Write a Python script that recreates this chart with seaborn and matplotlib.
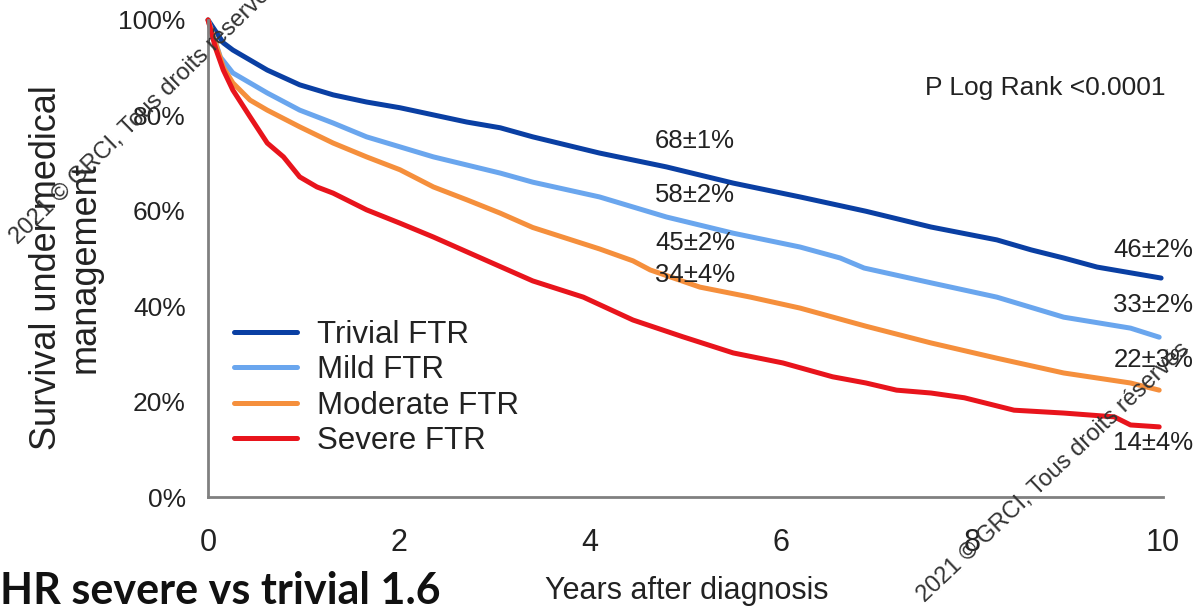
import matplotlib
matplotlib.use("Agg")
import matplotlib.pyplot as plt
import seaborn as sns
import pandas as pd

# ---- data ----
groups = ["Trivial FTR", "Mild FTR", "Moderate FTR", "Severe FTR"]
colors = ["#0a3fa3", "#6aa6ee", "#f58f3c", "#e8141c"]

trivial_x = [0, 0.16, 0.26, 0.62, 0.96, 1.31, 1.66, 2.01, 2.36, 2.71, 3.06, 3.40, 4.10, 4.80, 5.50, 6.20, 6.89, 7.57, 8.26, 8.62, 8.96, 9.31, 9.98]
trivial_y = [100, 95.2, 93.7, 89.5, 86.4, 84.3, 82.8, 81.6, 80.1, 78.6, 77.4, 75.5, 72.1, 69.2, 65.8, 62.9, 59.9, 56.6, 53.9, 51.8, 50.1, 48.2, 45.9]

mild_x = [0, 0.13, 0.26, 0.62, 0.96, 1.31, 1.66, 2.01, 2.36, 2.71, 3.06, 3.40, 4.10, 4.80, 5.50, 6.20, 6.62, 6.87, 7.57, 8.26, 8.96, 9.66, 9.96]
mild_y = [100, 92.2, 88.9, 84.7, 81.1, 78.4, 75.5, 73.4, 71.3, 69.6, 67.9, 66.0, 62.9, 58.7, 55.3, 52.4, 50.1, 48.0, 44.9, 41.9, 37.7, 35.4, 33.5]

moderate_x = [0, 0.16, 0.26, 0.44, 0.62, 0.96, 1.31, 1.66, 2.01, 2.36, 2.71, 3.06, 3.40, 4.10, 4.45, 4.63, 5.15, 5.68, 6.20, 6.89, 7.57, 8.26, 8.96, 9.66, 9.96]
moderate_y = [100, 90.1, 86.8, 83.2, 81.1, 77.6, 74.2, 71.3, 68.6, 65.0, 62.3, 59.5, 56.5, 52.0, 49.5, 47.6, 44.0, 41.9, 39.6, 35.8, 32.3, 29.1, 26.0, 23.9, 22.4]

severe_x = [0, 0.08, 0.16, 0.26, 0.44, 0.62, 0.79, 0.96, 1.14, 1.31, 1.66, 2.01, 2.36, 2.71, 3.40, 3.93, 4.45, 4.97, 5.50, 6.02, 6.54, 6.89, 7.21, 7.57, 7.92, 8.44, 8.96, 9.49, 9.66, 9.96]
severe_y = [100, 94.0, 89.5, 85.3, 79.7, 74.2, 71.3, 67.1, 65.0, 63.7, 60.2, 57.4, 54.5, 51.4, 45.3, 41.9, 37.1, 33.6, 30.2, 28.1, 25.2, 23.9, 22.4, 21.8, 20.8, 18.2, 17.6, 16.8, 15.1, 14.7]

mid_labels = ["68±1%", "58±2%", "45±2%", "34±4%"]
mid_label_y = [74.6, 63.3, 53.2, 46.5]
end_labels = ["46±2%", "33±2%", "22±3%", "14±4%"]
end_label_y = [51.8, 40.3, 28.7, 11.3]

xticks = [0, 2, 4, 6, 8, 10]
yticks = [0, 20, 40, 60, 80, 100]
ytick_labels = ["0%", "20%", "40%", "60%", "80%", "100%"]

# ---- build frame ----
frames = []
for g, xs, ys in zip(groups, [trivial_x, mild_x, moderate_x, severe_x],
                     [trivial_y, mild_y, moderate_y, severe_y]):
    frames.append(pd.DataFrame({"years": xs, "survival": ys, "group": g}))
df = pd.concat(frames, ignore_index=True)

sns.set_style("white")
plt.rcParams["font.family"] = ["Liberation Sans", "DejaVu Sans"]

W, H = 1197, 609
fig = plt.figure(figsize=(W / 100, H / 100), dpi=100)
ax = fig.add_axes([0.1738, 0.1839, 0.7978, 0.7833])

sns.lineplot(data=df, x="years", y="survival", hue="group", hue_order=groups,
             palette=colors, linewidth=3.6, sort=False, estimator=None, ax=ax,
             clip_on=False)

ax.set_xlim(0, 10)
ax.set_ylim(0, 100)
ax.set_xticks(xticks)
ax.set_xticklabels([str(t) for t in xticks], fontsize=22)
ax.set_yticks(yticks)
ax.set_yticklabels(ytick_labels, fontsize=19)
for s in ["top", "right"]:
    ax.spines[s].set_visible(False)
for s in ["left", "bottom"]:
    ax.spines[s].set_color("#808080")
    ax.spines[s].set_linewidth(2)
ax.tick_params(axis="both", which="major", direction="out", length=7, width=2,
               color="#808080", labelcolor="#222222")
ax.tick_params(axis="x", pad=15)
ax.tick_params(axis="y", pad=9)

ax.set_xlabel("")
ax.set_ylabel("")
fig.text(687 / W, 1 - 591 / H, "Years after diagnosis", fontsize=22,
         color="#222222", ha="center", va="center")
fig.text(66 / W, 1 - 268 / H, "Survival under medical\nmanagement", fontsize=26,
         color="#222222", ha="center", va="center", rotation=90,
         linespacing=1.12, multialignment="center")

leg = ax.legend(loc="upper left", bbox_to_anchor=(-0.002, 0.43), frameon=False,
                fontsize=22.5, handlelength=2.0, handletextpad=0.65,
                labelspacing=0.17)
for line in leg.get_lines():
    line.set_linewidth(3.6)
for t in leg.get_texts():
    t.set_color("#222222")

for lab, yv in zip(mid_labels, mid_label_y):
    ax.text(4.68, yv, lab, fontsize=18.5, color="#222222", va="center", ha="left")
for lab, yv in zip(end_labels, end_label_y):
    ax.text(9.48, yv, lab, fontsize=18.5, color="#222222", va="center", ha="left",
            clip_on=False)
ax.text(7.51, 85.7, "P Log Rank <0.0001", fontsize=19, color="#222222",
        va="center", ha="left")

fig.text(0.0, 0.008, "HR severe vs trivial 1.6", fontsize=31, fontweight="bold",
         family=["Lato", "DejaVu Sans"], color="#111111", ha="left", va="baseline")

wm = "2021 © GRCI, Tous droits réservés"
fig.text(18 / W, 1 - 245 / H, wm, fontsize=17, rotation=44.5,
         rotation_mode="anchor", ha="left", va="baseline", color="#333333")
fig.text(925 / W, 1 - 603 / H, wm, fontsize=17, rotation=43.5,
         rotation_mode="anchor", ha="left", va="baseline", color="#333333")

fig.savefig("out.png", dpi=100)
